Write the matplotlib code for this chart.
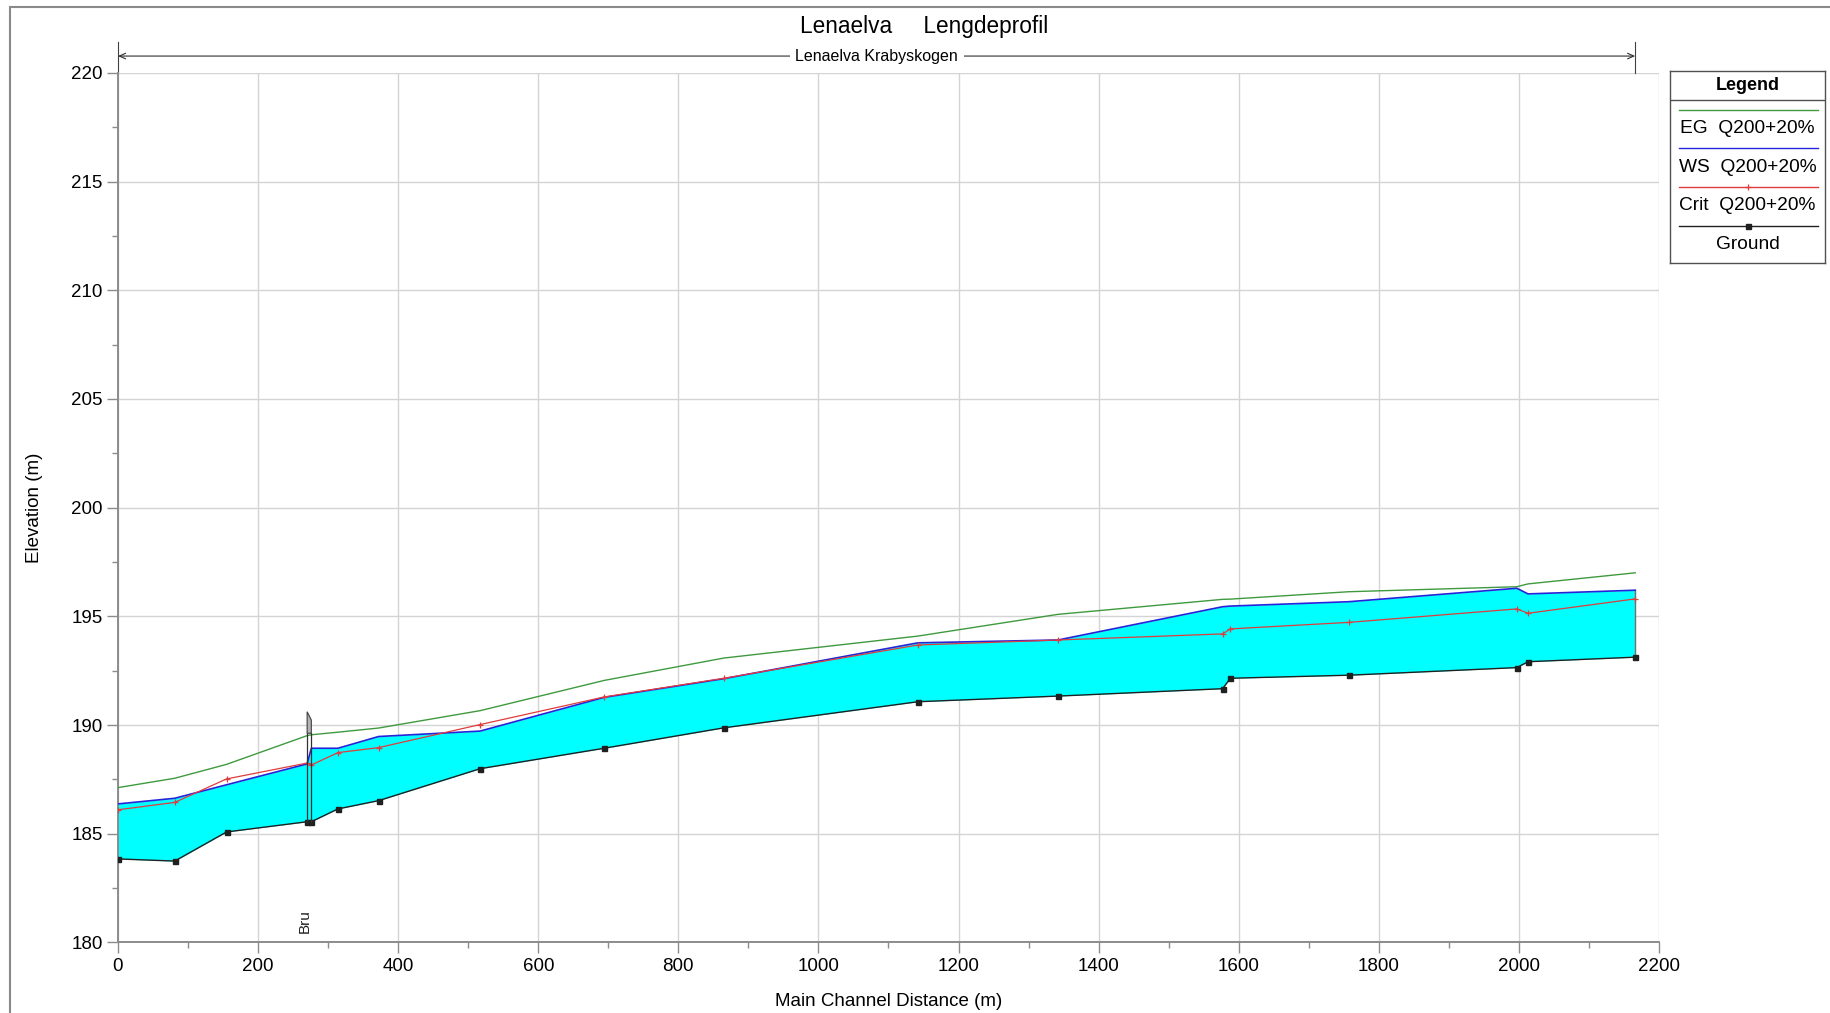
import matplotlib
matplotlib.use('Agg')
import matplotlib.pyplot as plt
from matplotlib.lines import Line2D
from matplotlib.patches import Rectangle, Polygon

plt.rcParams['font.family'] = ['Liberation Sans', 'DejaVu Sans']

# river stations (m) and profile elevations (m)
station = [0, 81, 155, 270, 276, 314, 372, 517, 694, 865, 1142, 1342, 1577, 1588, 1757, 1997, 2013, 2166]
ground = [183.84, 183.74, 185.08, 185.55, 185.55, 186.14, 186.52, 187.99, 188.93, 189.87,
          191.07, 191.33, 191.67, 192.15, 192.29, 192.64, 192.91, 193.12]
ws = [186.37, 186.63, 187.25, 188.21, 188.93, 188.93, 189.47, 189.72, 191.27, 192.13,
      193.78, 193.91, 195.44, 195.47, 195.67, 196.29, 196.03, 196.20]
crit = [186.10, 186.44, 187.52, 188.25, 188.16, 188.73, 188.96, 190.02, 191.29, 192.15,
        193.68, 193.91, 194.19, 194.42, 194.72, 195.34, 195.14, 195.80]
eg = [187.12, 187.55, 188.19, 189.51, 189.55, 189.67, 189.86, 190.66, 192.05, 193.08,
      194.09, 195.09, 195.78, 195.79, 196.13, 196.36, 196.49, 197.00]

# bridge at the upstream/downstream faces
bridge_x = [270, 276]
bridge_low = 189.62
bridge_high = [190.61, 190.23]

reach_name = 'Lenaelva Krabyskogen'
legend_labels = ['EG  Q200+20%', 'WS  Q200+20%', 'Crit  Q200+20%', 'Ground']

W, H = 1831, 1013
fig = plt.figure(figsize=(W / 100, H / 100), dpi=100)
ax = fig.add_axes([118 / W, 1 - 942.4 / H, 1541 / W, 869.6 / H])

grey = '#8c8c8c'
green = '#3f9a3f'
blue = '#2424d8'
red = '#e03c3c'

ax.fill_between(station, ground, ws, color='#00ffff', lw=0, zorder=1)
ax.plot([station[-1], station[-1]], [ground[-1], ws[-1]], color='#707070', lw=1, zorder=2)
ax.plot(station, eg, color=green, lw=1.0, zorder=3)
ax.plot(station, ws, color=blue, lw=1.2, zorder=3)
ax.plot(station, crit, color=red, lw=0.9, marker='+', ms=4.5, mew=0.9, zorder=4)
ax.plot(station, ground, color='#202020', lw=1, marker='s', ms=3.6, zorder=5)

# bridge deck and piers
for bx in bridge_x:
    ax.plot([bx, bx], [ground[3], bridge_low], color='#303030', lw=0.9, zorder=6)
deck = Polygon([(bridge_x[0], bridge_low), (bridge_x[0], bridge_high[0]),
                (bridge_x[1], bridge_high[1]), (bridge_x[1], bridge_low)],
               closed=True, facecolor='#b4b4b4', edgecolor='#404040', lw=0.8, zorder=6)
ax.add_patch(deck)
ax.text(266, 180.45, 'Bru', rotation=90, ha='center', va='bottom', fontsize=11, color='#202020')

ax.set_xlim(0, 2200)
ax.set_ylim(180, 220)
ax.set_xticks(range(0, 2201, 200))
ax.set_xticks(range(100, 2200, 200), minor=True)
ax.set_yticks(range(180, 221, 5))
ax.set_yticks([182.5 + 5 * i for i in range(8)], minor=True)
ax.grid(True, which='major', color='#d4d4d4', lw=1)
ax.set_axisbelow(True)
for s in ['top', 'right']:
    ax.spines[s].set_visible(False)
for s in ['left', 'bottom']:
    ax.spines[s].set_color(grey)
    ax.spines[s].set_linewidth(1.4)
ax.tick_params(which='major', length=8, width=1, color=grey, labelsize=13.5, pad=3)
ax.tick_params(which='minor', length=4, width=1, color=grey)

ax.set_xlabel('Main Channel Distance (m)', fontsize=13.5, va='center')
ax.set_ylabel('Elevation (m)', fontsize=13.5, va='center')
ax.xaxis.set_label_coords(0.5, -0.0674)
ax.yaxis.set_label_coords(-0.0545, 0.5)

# reach extent marker above the plot
y_arrow = 220.77
ax.annotate('', xy=(station[0], y_arrow), xytext=(station[-1], y_arrow),
            arrowprops=dict(arrowstyle='<->,head_length=0.45,head_width=0.2', color='#303030', lw=0.8,
                            shrinkA=0, shrinkB=0), annotation_clip=False)
for bx in [station[0], station[-1]]:
    ax.plot([bx, bx], [220.0, 221.4], color='#404040', lw=0.8, clip_on=False)
ax.text((station[0] + station[-1]) / 2, y_arrow, reach_name, ha='center', va='center', fontsize=11.5,
        bbox=dict(facecolor='white', edgecolor='none', pad=4), clip_on=False, zorder=10)

fig.text(924 / W, 1 - 27 / H, 'Lenaelva     Lengdeprofil', ha='center', va='center', fontsize=16.3)

# outer frame
fig.patches.append(Rectangle((10 / W, -0.02), 1.05, 1 - 7 / H + 0.02, transform=fig.transFigure,
                             fill=False, edgecolor='#8a8a8a', lw=1.5))

# legend box
lg = fig.add_axes([1670 / W, 1 - 263 / H, 155 / W, 192 / H])
lg.set_xlim(0, 155)
lg.set_ylim(192, 0)
lg.set_xticks([])
lg.set_yticks([])
for s in lg.spines.values():
    s.set_color('#505050')
    s.set_linewidth(1)
lg.text(77.5, 14, 'Legend', ha='center', va='center', fontsize=13, fontweight='bold')
lg.add_line(Line2D([0, 155], [29, 29], color='#505050', lw=1))
styles = [dict(color=green), dict(color=blue),
          dict(color=red, marker='+', ms=4.5, mew=0.9, markevery=[1]),
          dict(color='#202020', marker='s', ms=3.6, markevery=[1])]
for i, (lab, st) in enumerate(zip(legend_labels, styles)):
    yl = 38.8 + 38.6 * i
    lg.plot([9, 78, 148], [yl, yl, yl], lw=1, **st)
    lg.text(77.5, yl + 18.6, lab, ha='center', va='center', fontsize=13.8)

fig.savefig('out.png', dpi=100)
